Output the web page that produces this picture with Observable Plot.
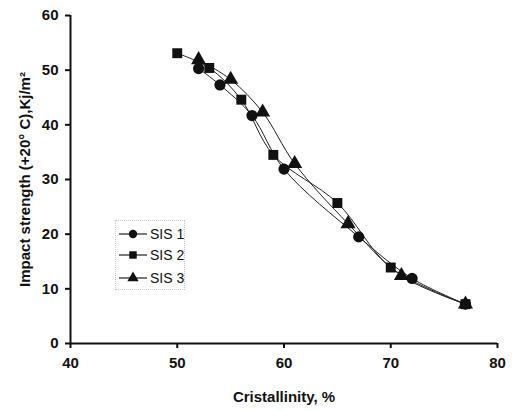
<!DOCTYPE html>
<html>
<head>
<meta charset="utf-8">
<script src="https://cdn.jsdelivr.net/npm/d3@7"></script>
<script src="https://cdn.jsdelivr.net/npm/@observablehq/plot@0.6"></script>
<style>
  html, body { margin: 0; padding: 0; background: #fff; }
  #wrap { position: relative; width: 512px; height: 411px; }
  #legend { position: absolute; left: 115px; top: 220px; width: 70px; height: 70px;
    border: 1px dotted #c8c8c8; box-sizing: border-box; }
</style>
</head>
<body>
<div id="wrap"><div id="legend"></div></div>
<script>
const xTicks = [40, 50, 60, 70, 80];
const yTicks = [0, 10, 20, 30, 40, 50, 60];
const xLabel = "Cristallinity, %";
const yLabel = "Impact strength (+20° C),Kj/m²";
const seriesNames = ["SIS 1", "SIS 2", "SIS 3"];
const seriesSymbols = ["circle", "square", "triangle"];

const sis1X = [52, 54, 57, 60, 67, 72, 77];
const sis1Y = [50.3, 47.3, 41.7, 31.9, 19.5, 11.9, 7.2];
const sis2X = [50, 53, 56, 59, 65, 70, 77];
const sis2Y = [53.1, 50.4, 44.6, 34.5, 25.7, 13.9, 7.2];
const sis3X = [52, 55, 58, 61, 66, 71, 77];
const sis3Y = [51.9, 48.3, 42.3, 32.9, 21.9, 12.4, 7.2];

const table = [];
[[sis1X, sis1Y], [sis2X, sis2Y], [sis3X, sis3Y]].forEach(([xs, ys], i) => {
  xs.forEach((x, j) => table.push({series: seriesNames[i], x, y: ys[j]}));
});

const font = "'Liberation Sans', Arial, sans-serif";

const chart = Plot.plot({
  width: 512,
  height: 411,
  marginLeft: 70,
  marginRight: 15,
  marginTop: 15,
  marginBottom: 68,
  style: {fontFamily: font, fontSize: "15px", fontWeight: "bold", background: "#fff", color: "#111"},
  x: {domain: [40, 80]},
  y: {domain: [0, 60]},
  symbol: {domain: seriesNames, range: seriesSymbols},
  marks: [
    Plot.axisX({ticks: xTicks, tickSize: 5, strokeWidth: 2, tickPadding: 9, fontSize: 15, label: null}),
    Plot.axisY({ticks: yTicks, tickSize: 5, strokeWidth: 2, tickPadding: 7, fontSize: 15, label: null}),
    Plot.text([xLabel], {frameAnchor: "bottom", dy: 58, fontSize: 15, fontWeight: "bold", fill: "#111"}),
    Plot.text([yLabel], {frameAnchor: "left", textAnchor: "middle", rotate: -90, dx: -45, fontSize: 15, fontWeight: "bold", fill: "#111"}),
    Plot.ruleX([40], {stroke: "#111", strokeWidth: 2}),
    Plot.ruleY([0], {stroke: "#111", strokeWidth: 2}),
    Plot.line(table, {x: "x", y: "y", z: "series", stroke: "#222", strokeWidth: 1, curve: "catmull-rom"}),
    Plot.dot(table, {x: "x", y: "y", symbol: "series", fill: "#111", stroke: "none", r: 5.6})
  ]
});
document.getElementById("wrap").prepend(chart);

// legend
const lg = d3.select("#legend").append("svg").attr("width", 70).attr("height", 70)
  .style("position", "absolute").style("left", "-1px").style("top", "-1px");
const rowsY = [14, 35, 58];
const symMap = {circle: d3.symbolCircle, square: d3.symbolSquare, triangle: d3.symbolTriangle};
seriesNames.forEach((name, i) => {
  const g = lg.append("g").attr("transform", `translate(0,${rowsY[i]})`);
  g.append("line").attr("x1", 4).attr("x2", 32).attr("y1", 0).attr("y2", 0).attr("stroke", "#222").attr("stroke-width", 1.2);
  g.append("path").attr("transform", "translate(18,0)")
    .attr("d", d3.symbol(symMap[seriesSymbols[i]], Math.PI * 4.2 * 4.2)()).attr("fill", "#111");
  g.append("text").attr("x", 35).attr("y", 0).attr("dy", "0.35em")
    .attr("font-family", font).attr("font-size", 14).attr("fill", "#111").text(name);
});
</script>
</body>
</html>
